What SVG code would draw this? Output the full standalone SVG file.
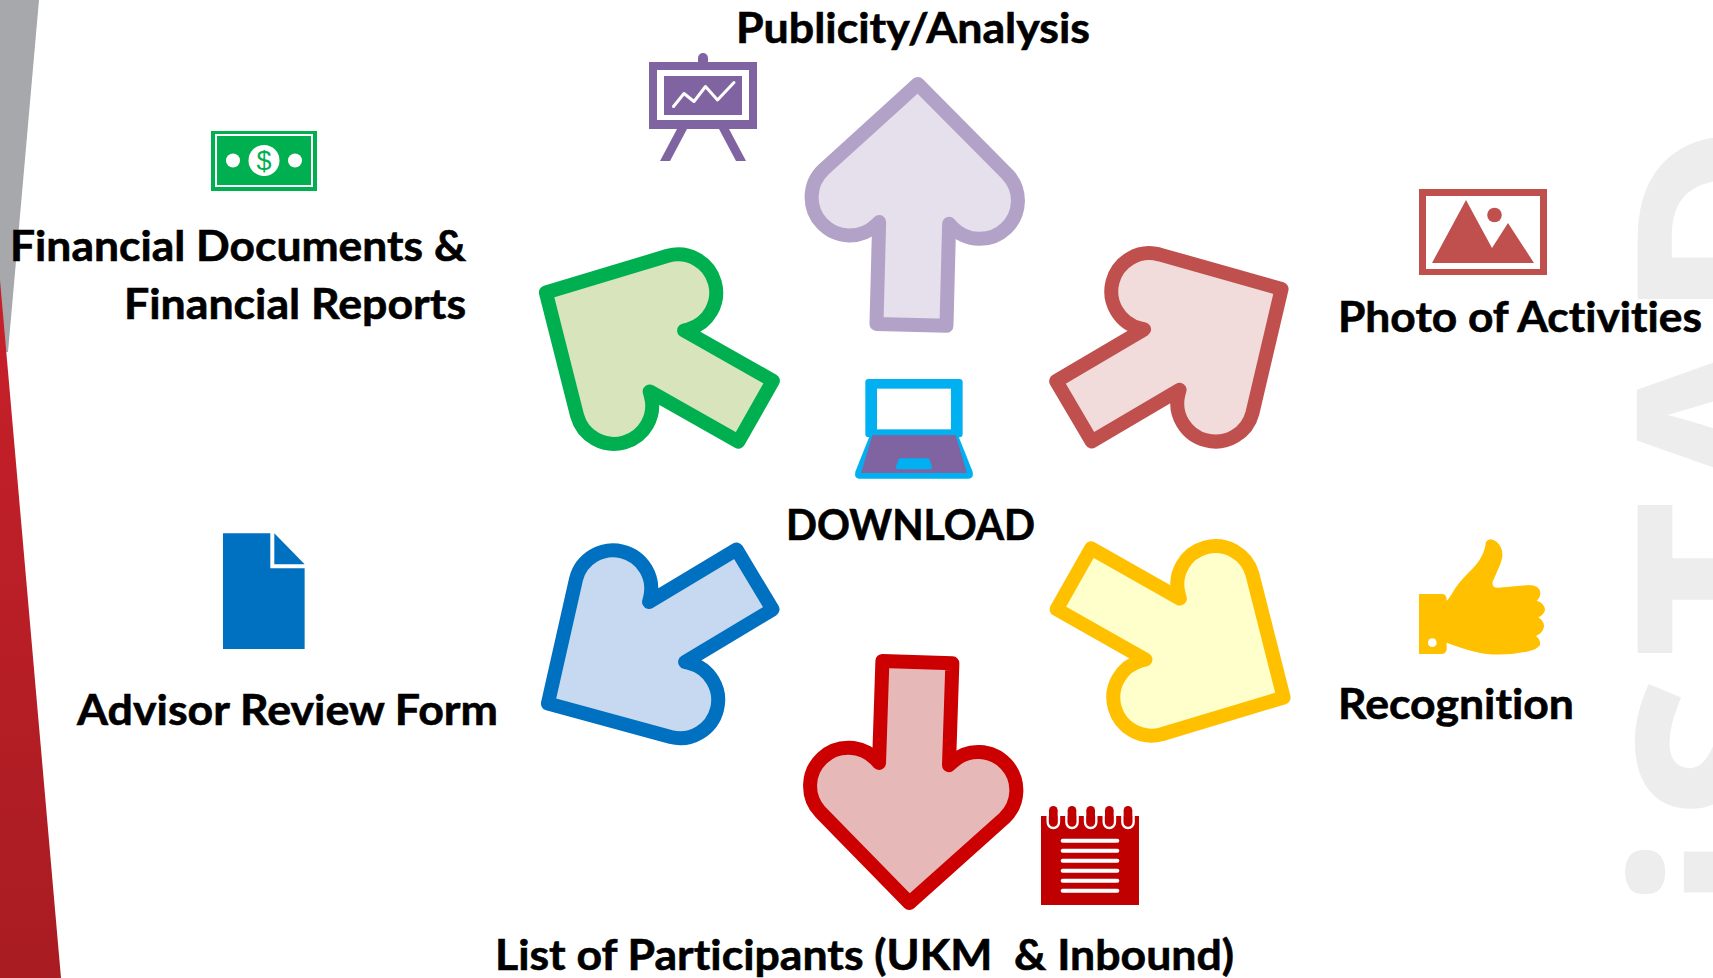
<svg xmlns="http://www.w3.org/2000/svg" width="1713" height="978" viewBox="0 0 1713 978">
<style>
.lb{font-family:"Lato","Liberation Sans",sans-serif;font-weight:700;font-size:42px;fill:#000;stroke:#000;stroke-width:.6;font-variant-ligatures:none}
.wm{font-family:"Open Sans","Liberation Sans",sans-serif;font-weight:700;font-size:275px;fill:#EDEDED}
.ar{stroke-width:14;stroke-linejoin:round}
</style>
<defs>
<linearGradient id="redg" x1="0" y1="0" x2="0" y2="1"><stop offset="0" stop-color="#C8202A"/><stop offset="1" stop-color="#A81C22"/></linearGradient>
<path id="arrow" d="M0,-3 L92,85 A38,38 0 0 1 38,139 L35,136 L35,238 L-35,238 L-35,136 L-38,139 A38,38 0 0 1 -92,85 Z"/>
</defs>
<rect width="1713" height="978" fill="#fff"/>
<g id="background">
<polygon points="0,0 39,0 8,352 0,352" fill="#A6A8AB"/>
<polygon points="0,280 61,978 0,978" fill="url(#redg)"/>
<text class="wm" transform="translate(1834,0) rotate(-90)" text-anchor="middle" x="-872 -748 -579 -415 -222">iSTAD</text>
</g>
<g id="connectors">
<use href="#arrow" class="ar" fill="#E6E0EC" stroke="#B3A2C7" transform="translate(917.7,87) rotate(1.5)"/>
<use href="#arrow" class="ar" fill="#D8E4BC" stroke="#00B050" transform="translate(548.500,294) rotate(-60.5)"/>
<use href="#arrow" class="ar" fill="#C6D9F1" stroke="#0070C0" transform="translate(550.500,702) rotate(-121)"/>
<use href="#arrow" class="ar" fill="#E6B9B8" stroke="#CC0000" transform="translate(909.500,900) rotate(181.9)"/>
<use href="#arrow" class="ar" fill="#FFFFCC" stroke="#FFC000" transform="translate(1281,696) rotate(119.500)"/>
<use href="#arrow" class="ar" fill="#F2DCDB" stroke="#C0504D" transform="translate(1279,290.500) rotate(59.500)"/>
</g>
<g id="node-publicity">
<rect x="698" y="53" width="10" height="14" rx="5" fill="#8064A2"/>
<rect x="649" y="62" width="108" height="67" fill="#8064A2"/>
<rect x="657" y="70" width="92" height="50" fill="#fff"/>
<rect x="664" y="76" width="78" height="39" fill="#8064A2"/>
<polyline points="673.5,106.5 684,93.5 694,101.5 705.500,86.5 717.500,100 734,82.500" fill="none" stroke="#fff" stroke-width="3" stroke-linecap="round" stroke-linejoin="round"/>
<polygon points="677,129 660,161 670,161 687,129" fill="#8064A2"/>
<polygon points="719,129 729,129 746,161 736,161" fill="#8064A2"/>
<text class="lb" x="736" y="43" textLength="354" lengthAdjust="spacingAndGlyphs">Publicity/Analysis</text>
</g>
<g id="node-financial">
<rect x="211" y="131" width="106" height="60" fill="#00B050"/>
<rect x="216" y="135" width="96" height="51" fill="none" stroke="#fff" stroke-width="2"/>
<circle cx="264" cy="160.500" r="15.500" fill="#fff"/>
<circle cx="233" cy="160.500" r="7" fill="#fff"/>
<circle cx="295" cy="160.500" r="7" fill="#fff"/>
<text x="264" y="170" text-anchor="middle" font-family="Liberation Sans,sans-serif" font-size="27" fill="#00B050">$</text>
<text class="lb" x="10" y="261" textLength="456" lengthAdjust="spacingAndGlyphs">Financial Documents &amp;</text>
<text class="lb" x="124" y="319" textLength="342" lengthAdjust="spacingAndGlyphs">Financial Reports</text>
</g>
<g id="node-photo">
<rect x="1419" y="189" width="128" height="86" fill="#C0504D"/>
<rect x="1426" y="196" width="114" height="73" fill="#fff"/>
<polygon points="1432,263 1466,200 1492,248 1508,223 1534,263" fill="#C0504D"/>
<circle cx="1494.500" cy="215" r="7.300" fill="#C0504D"/>
<text class="lb" x="1338" y="332" textLength="364" lengthAdjust="spacingAndGlyphs">Photo of Activities</text>
</g>
<g id="node-recognition">
<g transform="translate(1340,500) scale(0.3333)">
<path fill="#FFC000" d="M237,282 H308 Q320,282 320,302 C335,290 340,265 370,235 C395,205 430,185 438,125 Q450,110 470,125 C492,145 490,170 480,195 L458,245 Q455,265 475,263 L565,255 Q600,255 601,280 Q600,295 590,302 Q615,310 615,330 Q612,345 595,352 Q614,365 612,380 Q608,400 588,408 Q603,420 600,435 Q590,450 560,455 Q500,468 440,462 Q400,458 320,428 V448 Q318,462 305,462 H237 Z"/>
<circle cx="277" cy="428" r="13" fill="#fff"/>
</g>
<text class="lb" x="1338" y="719" textLength="236" lengthAdjust="spacingAndGlyphs">Recognition</text>
</g>
<g id="node-download">
<g transform="translate(780,360) scale(0.3333)">
<rect x="256" y="57" width="292" height="175" rx="10" fill="#00B0F0"/>
<path d="M270,225 L534,225 L578,335 Q582,356 565,356 L238,356 Q222,356 226,335 Z" fill="#00B0F0"/>
<rect x="291" y="86" width="222" height="122" fill="#fff"/>
<polygon points="277,225 527,225 561,339 243,339" fill="#8064A2"/>
<path d="M362,295 H442 Q448,295 451,305 L456,320 Q457,328 448,328 H356 Q347,328 348,320 L353,305 Q356,295 362,295 Z" fill="#00B0F0"/>
</g>
<text class="lb" x="786" y="540" textLength="249" lengthAdjust="spacingAndGlyphs">DOWNLOAD</text>
</g>
<g id="node-advisor">
<g transform="translate(0,500) scale(0.3333)">
<polygon points="669,100 811,100 811,205 914,205 914,447 669,447" fill="#0070C0"/>
<polygon points="823,100 914,193 823,193" fill="#0070C0"/>
</g>
<text class="lb" x="77" y="725" textLength="421" lengthAdjust="spacingAndGlyphs">Advisor Review Form</text>
</g>
<g id="node-participants">
<g transform="translate(1000,780) scale(0.3333)">
<rect x="123" y="108" width="294" height="267" fill="#C00000"/>
<g fill="#C00000">
<rect x="147" y="78" width="26" height="66" rx="13"/>
<rect x="203" y="78" width="26" height="66" rx="13"/>
<rect x="259" y="78" width="26" height="66" rx="13"/>
<rect x="315" y="78" width="26" height="66" rx="13"/>
<rect x="371" y="78" width="26" height="66" rx="13"/>
</g>
<g fill="none" stroke="#fff" stroke-width="7">
<path d="M143,108 V127 A17,17 0 0 0 177,127 V108"/>
<path d="M199,108 V127 A17,17 0 0 0 233,127 V108"/>
<path d="M255,108 V127 A17,17 0 0 0 289,127 V108"/>
<path d="M311,108 V127 A17,17 0 0 0 345,127 V108"/>
<path d="M367,108 V127 A17,17 0 0 0 401,127 V108"/>
</g>
<g stroke="#fff" stroke-width="12" stroke-linecap="round">
<line x1="188" y1="182" x2="352" y2="182"/>
<line x1="188" y1="212" x2="352" y2="212"/>
<line x1="188" y1="242" x2="352" y2="242"/>
<line x1="188" y1="272" x2="352" y2="272"/>
<line x1="188" y1="302" x2="352" y2="302"/>
<line x1="188" y1="332" x2="352" y2="332"/>
</g>
</g>
<text class="lb" x="495" y="970" textLength="739" lengthAdjust="spacingAndGlyphs" xml:space="preserve">List of Participants (UKM  &amp; Inbound)</text>
</g>
</svg>
